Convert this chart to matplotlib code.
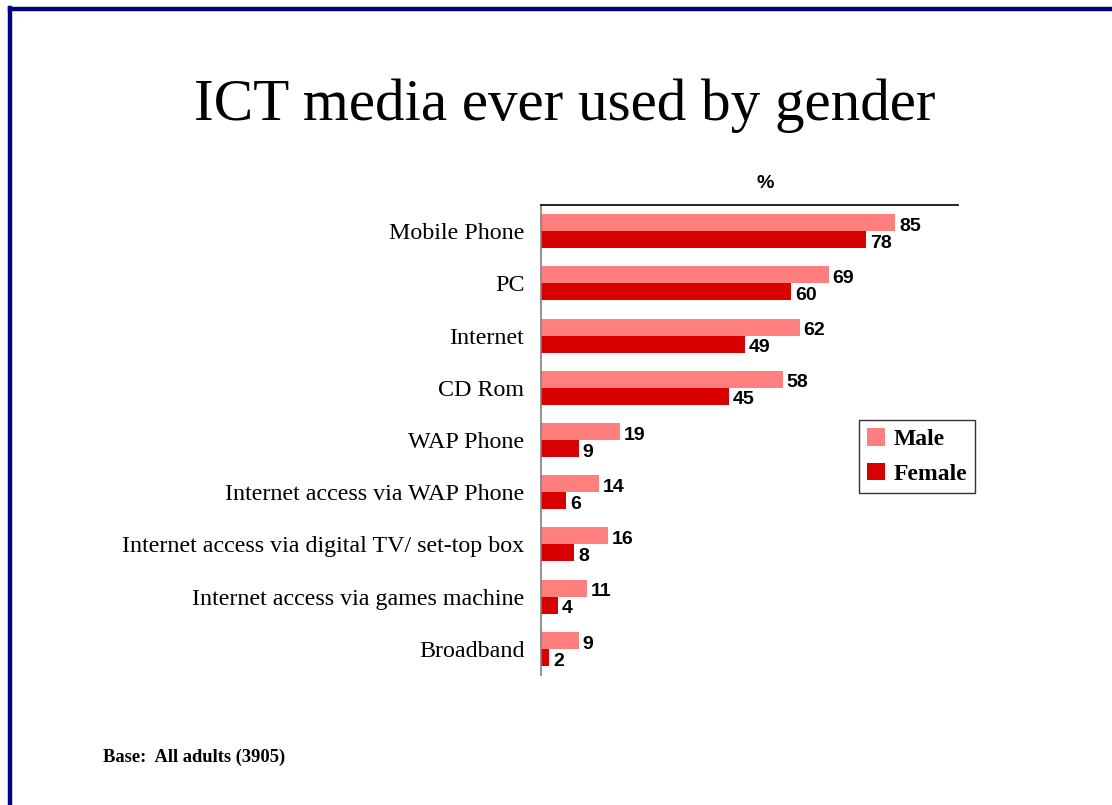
import numpy as np
import matplotlib.pyplot as plt
from matplotlib.patches import Patch
from matplotlib.lines import Line2D

# ICT media ever used, by gender (% of all adults)
categories = [
    "Mobile Phone",
    "PC",
    "Internet",
    "CD Rom",
    "WAP Phone",
    "Internet access via WAP Phone",
    "Internet access via digital TV/ set-top box",
    "Internet access via games machine",
    "Broadband",
]
male = [85, 69, 62, 58, 19, 14, 16, 11, 9]
female = [78, 60, 49, 45, 9, 6, 8, 4, 2]

MALE_COLOR = "#FF7F7F"
FEMALE_COLOR = "#D90000"
NAVY = "#000080"

W, H = 1112, 805
fig = plt.figure(figsize=(W / 100, H / 100), dpi=100)

# axes placed in pixel terms: left 541, right 958, top 205, bottom 675
ax = fig.add_axes([541 / W, 1 - 675 / H, 417 / W, 470 / H])

y = np.arange(len(categories))
bh = 0.325
ax.barh(y - bh / 2, male, height=bh, color=MALE_COLOR, edgecolor="none")
ax.barh(y + bh / 2, female, height=bh, color=FEMALE_COLOR, edgecolor="none")

for i, (m, f) in enumerate(zip(male, female)):
    ax.text(m + 0.9, i - bh / 2 + 0.07, str(m), va="center", ha="left",
            fontsize=14, fontweight="bold", family="Liberation Sans")
    ax.text(f + 0.9, i + bh / 2 + 0.07, str(f), va="center", ha="left",
            fontsize=14, fontweight="bold", family="Liberation Sans")

ax.set_xlim(0, 100)
ax.set_ylim(len(categories) - 0.5, -0.5)
ax.set_yticks(y)
ax.set_yticklabels(categories, family="Liberation Serif", fontsize=17.3)
ax.tick_params(axis="y", length=0, pad=12)
ax.set_xticks([])

for s in ("right", "bottom"):
    ax.spines[s].set_visible(False)
ax.spines["left"].set_color("#808080")
ax.spines["left"].set_linewidth(1.2)
ax.spines["top"].set_color("black")
ax.spines["top"].set_linewidth(1.2)

# legend
handles = [Patch(facecolor=MALE_COLOR, edgecolor="none", label="Male"),
           Patch(facecolor=FEMALE_COLOR, edgecolor="none", label="Female")]
leg = fig.legend(handles=handles, loc="upper left",
                 bbox_to_anchor=(859 / W, 1 - 420 / H),
                 prop={"family": "Liberation Serif", "weight": "bold", "size": 17},
                 frameon=True, fancybox=False, handlelength=0.75, handleheight=0.75,
                 handletextpad=0.35, borderpad=0.35, labelspacing=0.55,
                 borderaxespad=0)
leg.get_frame().set_edgecolor("black")
leg.get_frame().set_linewidth(1.0)

# titles and notes
fig.text(565 / W, 1 - 106 / H, "ICT media ever used by gender", ha="center",
         va="center", family="Liberation Serif", fontsize=42.6)
fig.text(765 / W, 1 - 183 / H, "%", ha="center", va="center",
         family="Liberation Sans", fontweight="bold", fontsize=14)
fig.text(103 / W, 1 - 757 / H, "Base:  All adults (3905)", ha="left",
         va="center", family="Liberation Serif", fontweight="bold", fontsize=13.3)

# frame lines along top and left edge
fig.add_artist(Line2D([10 / W, 1], [1 - 9.5 / H, 1 - 9.5 / H],
                      transform=fig.transFigure, color=NAVY, linewidth=3.2))
fig.add_artist(Line2D([10 / W, 10 / W], [0, 1 - 8 / H],
                      transform=fig.transFigure, color=NAVY, linewidth=3.2))

fig.savefig("out.png", dpi=100)
